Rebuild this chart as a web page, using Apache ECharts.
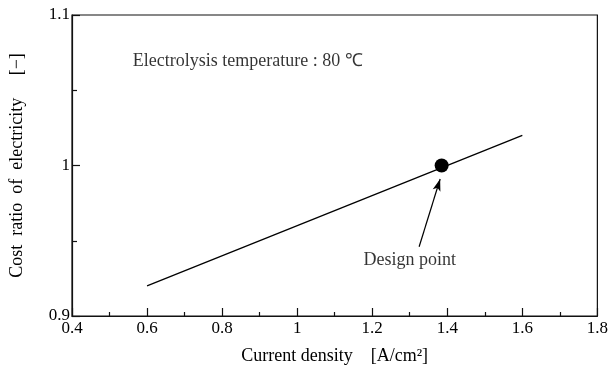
<!DOCTYPE html>
<html><head><meta charset="utf-8">
<script src="https://cdn.jsdelivr.net/npm/echarts@6/dist/echarts.min.js"></script>
<style>html,body{margin:0;padding:0;background:#fff}#c{width:611px;height:374px}</style>
</head><body><div id="c"></div>
<script>
// data
var lineX = [0.6, 1.6];
var lineY = [0.92, 1.02];
var designPoint = [1.385, 1.0];
var arrowTail = [1.325, 0.946];
var arrowHead = [1.381, 0.991];
var designLabelPos = [1.30, 0.937];
var tempLabelPos = [0.562, 1.069];
var designLabel = 'Design point';
var tempLabel = 'Electrolysis temperature : 80 \u2103';
var xName = 'Current density    [A/cm\u00b2]';
var yName = 'Cost  ratio  of  electricity     [\u2212]';

var font = 'Liberation Serif';
var ink = '#000';
var chart = echarts.init(document.getElementById('c'));
var lineData = lineX.map(function (x, i) { return [x, lineY[i]]; });
chart.setOption({
  animation: false,
  grid: { left: 72, right: 10, top: 15, bottom: 58, show: true, borderColor: '#111', borderWidth: 1.2 },
  xAxis: {
    type: 'value', min: 0.4, max: 1.8, interval: 0.2,
    name: xName, nameLocation: 'middle', nameGap: 31,
    nameTextStyle: { fontFamily: font, fontSize: 18, color: ink },
    axisLine: { lineStyle: { color: '#111', width: 1.2 } },
    axisTick: { inside: true, length: 8, lineStyle: { color: '#111', width: 1.2 } },
    minorTick: { show: true, splitNumber: 2, length: 4, lineStyle: { color: '#111', width: 1.2 } },
    splitLine: { show: false },
    axisLabel: { fontFamily: font, fontSize: 17, color: ink, margin: 4,
      formatter: function (v) { return String(Math.round(v * 10) / 10); } }
  },
  yAxis: {
    type: 'value', min: 0.9, max: 1.1, interval: 0.1,
    name: yName, nameLocation: 'middle', nameGap: 46,
    nameTextStyle: { fontFamily: font, fontSize: 18, color: ink },
    axisLine: { lineStyle: { color: '#111', width: 1.2 } },
    axisTick: { inside: true, length: 8, lineStyle: { color: '#111', width: 1.2 } },
    minorTick: { show: true, splitNumber: 2, length: 5, lineStyle: { color: '#111', width: 1.2 } },
    splitLine: { show: false },
    axisLabel: { fontFamily: font, fontSize: 17, color: ink, margin: 2, verticalAlign: 'middle',
      padding: [4, 0, 0, 0],
      formatter: function (v) { return String(Math.round(v * 10) / 10); } }
  },
  series: [
    { type: 'line', data: lineData, symbol: 'none', lineStyle: { color: '#000', width: 1.3 },
      markLine: { silent: true, symbol: ['none', 'arrow'], symbolSize: [6, 12],
        lineStyle: { color: '#000', width: 1.2, type: 'solid' }, label: { show: false },
        data: [[{ coord: arrowTail }, { coord: arrowHead }]] } },
    { type: 'scatter', data: [designPoint], symbolSize: 14, itemStyle: { color: '#000', opacity: 1 } },
    { type: 'scatter', symbolSize: 0, data: [designLabelPos],
      label: { show: true, position: 'inside', formatter: designLabel, fontFamily: font, fontSize: 18, color: ink } },
    { type: 'scatter', symbolSize: 0, data: [tempLabelPos],
      label: { show: true, position: 'right', distance: 0, formatter: tempLabel, fontFamily: font, fontSize: 18, color: ink } }
  ]
});
</script></body></html>
